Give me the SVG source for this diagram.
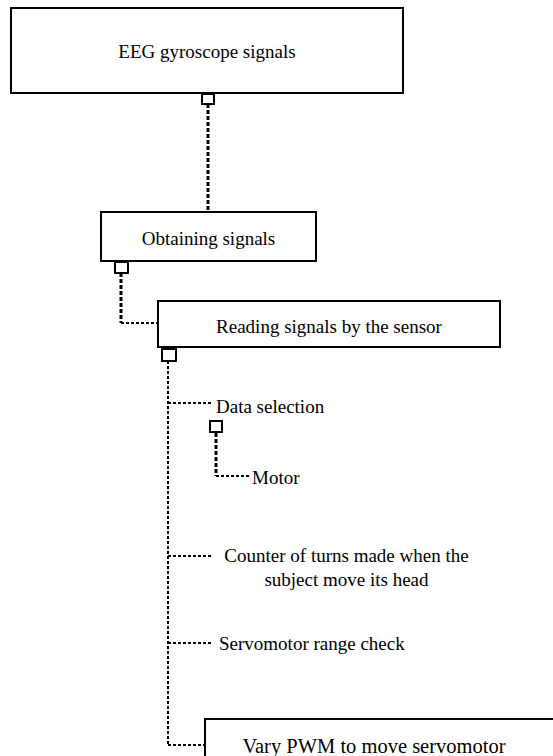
<svg xmlns="http://www.w3.org/2000/svg" width="553" height="756" viewBox="0 0 553 756">
<style>
.box{fill:#fff;stroke:#000;stroke-width:2}
.sq{fill:#fff;stroke:#000;stroke-width:2}
.t{font-family:"Liberation Serif","Times New Roman",serif;font-size:19px;fill:#000}
.thick{fill:none;stroke:#000;stroke-width:3;stroke-dasharray:4 2}
.thin{fill:none;stroke:#000;stroke-width:2;stroke-dasharray:3 2}
</style>
<rect width="553" height="756" fill="#fff"/>
<g id="connectors">
<path class="thick" d="M208 104 V212"/>
<path class="thick" d="M121 273 V323"/>
<path class="thin" d="M121 323 H158"/>
<path class="thin" d="M168 361 V745"/>
<path class="thin" d="M168 403 H212"/>
<path class="thick" d="M216 433 V476"/>
<path class="thin" d="M216 476 H251"/>
<path class="thin" d="M168 556 H213"/>
<path class="thin" d="M168 643 H213"/>
<path class="thin" d="M168 745 H205"/>
</g>
<g id="n1">
<rect class="box" x="11" y="8" width="392" height="85"/>
<text class="t" x="207" y="58" text-anchor="middle">EEG gyroscope signals</text>
<rect class="sq" x="202" y="94" width="12" height="10"/>
</g>
<g id="n2">
<rect class="box" x="101" y="212" width="215" height="49"/>
<text class="t" x="208.5" y="245" text-anchor="middle">Obtaining signals</text>
<rect class="sq" x="115" y="262" width="13" height="11"/>
</g>
<g id="n3">
<rect class="box" x="158" y="301" width="342" height="46"/>
<text class="t" x="329" y="333" text-anchor="middle">Reading signals by the sensor</text>
<rect class="sq" x="162" y="349" width="14" height="12"/>
</g>
<g id="n4">
<text class="t" x="216" y="413">Data selection</text>
<rect class="sq" x="210" y="421" width="12" height="11"/>
</g>
<g id="n5">
<text class="t" x="252" y="484">Motor</text>
</g>
<g id="n6">
<text class="t" x="346.5" y="562" text-anchor="middle">Counter of turns made when the</text>
<text class="t" x="346.5" y="586" text-anchor="middle">subject move its head</text>
</g>
<g id="n7">
<text class="t" x="219" y="650">Servomotor range check</text>
</g>
<g id="n8">
<rect class="box" x="205" y="719" width="360" height="60"/>
<text class="t" x="374" y="753" text-anchor="middle" style="font-size:20.5px">Vary PWM to move servomotor</text>
</g>
</svg>
